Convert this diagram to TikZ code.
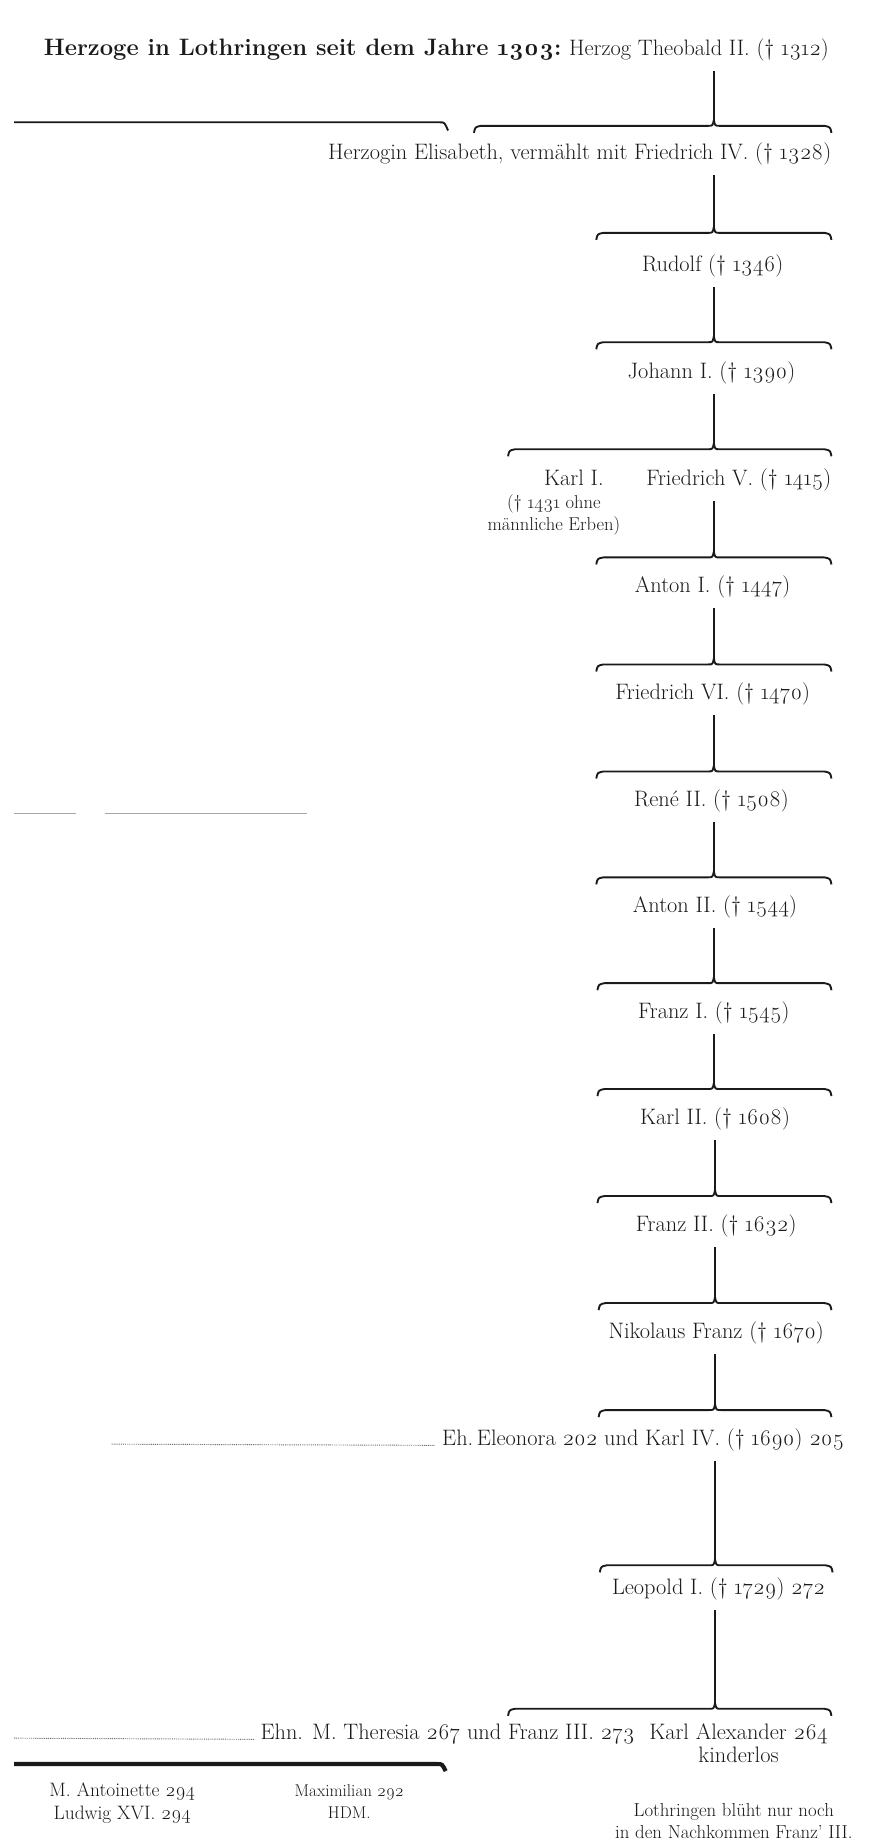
\documentclass[tikz,border=0pt]{standalone}
\usepackage{fontspec}
\setmainfont{Latin Modern Roman}[Numbers=OldStyle]
\usepackage{tikz}
\usetikzlibrary{positioning}
\definecolor{LoInk}{HTML}{1A1A1A}
\definecolor{LoFaint}{HTML}{A8A8A8}
\definecolor{LoDots}{HTML}{6E6E6E}
\newcommand{\namefont}{\fontsize{19}{20}\selectfont}
\newcommand{\titlefont}{\fontsize{20.2}{21}\selectfont\bfseries}
\newcommand{\notefont}{\fontsize{15.8}{19}\selectfont}
\tikzset{
  person/.style={anchor=base,inner sep=0pt,font=\namefont,text=LoInk},
  stem/.style={LoInk,line width=1.3pt,shorten <=8pt},
  bracket/.style={LoInk,line width=1.6pt,line join=round},
  dotrule/.style={LoDots,line width=0.8pt,dash pattern=on 0.8pt off 0.8pt},
}
% family bracket: left x, right x, tip x, y, name of the tip
\newcommand{\kinbrace}[5]{%
  \draw[bracket] ({#1},{#4+6}) .. controls ({#1+1},{#4+1}) .. ({#1+6},{#4})
    -- ({#3-5},{#4}) .. controls ({#3-1},{#4}) .. ({#3},{#4-5})
    .. controls ({#3+1},{#4}) .. ({#3+5},{#4}) -- ({#2-6},{#4})
    .. controls ({#2-1},{#4+1}) .. ({#2},{#4+6});
  \coordinate (#5) at ({#3},{#4-5});}

\begin{document}
\begin{tikzpicture}[x=1pt,y=-1pt]
\path[use as bounding box] (0,0) rectangle (743,1568);
% title row
\node[person,anchor=base east] (theobald) at (705,47) {Herzog Theobald II. († 1312)};
\node[person,anchor=base east,font=\titlefont] (title) at ([xshift=-6pt]theobald.base west) {Herzoge in Lothringen seit dem Jahre 1303:};
\draw[bracket] (12,104) -- (374,104) .. controls (378,104) .. (381,111);
\kinbrace{403}{707}{607}{107}{b1}
\draw[stem] (b1 |- theobald.south) -- (b1);
% the line of dukes
\node[person,anchor=base east] (elisabeth) at (707,136) {Herzogin Elisabeth, vermählt mit Friedrich IV. († 1328)};
\kinbrace{507}{707}{607}{198}{b2}
\draw[stem] (b2 |- elisabeth.south) -- (b2);
\node[person] (rudolf) at (606,231) {Rudolf († 1346)};
\kinbrace{507}{707}{607}{291}{b3}
\draw[stem] (b3 |- rudolf.south) -- (b3);
\node[person] (johann1) at (605,322) {Johann I. († 1390)};
\kinbrace{432}{707}{607}{382}{b4}
\draw[stem] (b4 |- johann1.south) -- (b4);
\node[person] (karl1) at (488,413) {Karl I.};
\node[person,font=\notefont,align=center] (karl1note) at (471,451) {(† 1431 ohne\\männliche Erben)};
\node[person,anchor=base east] (friedrich5) at (707,413) {Friedrich V. († 1415)};
\kinbrace{507}{707}{607}{474}{b5}
\draw[stem] (b5 |- friedrich5.south) -- (b5);
\node[person] (anton1) at (606,504) {Anton I. († 1447)};
\kinbrace{507}{707}{607}{565}{b6}
\draw[stem] (b6 |- anton1.south) -- (b6);
\node[person] (friedrich6) at (606,595) {Friedrich VI. († 1470)};
\kinbrace{507}{707}{607}{656}{b7}
\draw[stem] (b7 |- friedrich6.south) -- (b7);
\node[person] (rene2) at (605,686) {René II. († 1508)};
\kinbrace{507}{707}{607}{746}{b8}
\draw[stem] (b8 |- rene2.south) -- (b8);
\node[person] (anton2) at (608,776) {Anton II. († 1544)};
\kinbrace{508}{707}{607}{836}{b9}
\draw[stem] (b9 |- anton2.south) -- (b9);
\node[person] (franz1) at (607,866) {Franz I. († 1545)};
\kinbrace{508}{707}{607}{926}{b10}
\draw[stem] (b10 |- franz1.south) -- (b10);
\node[person] (karl2) at (608,956) {Karl II. († 1608)};
\kinbrace{508}{707}{608}{1017}{b11}
\draw[stem] (b11 |- karl2.south) -- (b11);
\node[person] (franz2) at (609,1047) {Franz II. († 1632)};
\kinbrace{509}{707}{608}{1108}{b12}
\draw[stem] (b12 |- franz2.south) -- (b12);
\node[person] (nikolaus) at (609,1138) {Nikolaus Franz († 1670)};
\kinbrace{509}{707}{608}{1199}{b13}
\draw[stem] (b13 |- nikolaus.south) -- (b13);
\node[person,anchor=base east] (eleonora) at (718,1229) {Eh.\,Eleonora 202 und Karl IV. († 1690) 205};
\draw[dotrule] (95,1228) -- ([xshift=-6pt]eleonora.base west);
\kinbrace{510}{708}{608}{1331}{b14}
\draw[stem] (b14 |- eleonora.south) -- (b14);
\node[person] (leopold1) at (611,1356) {Leopold I. († 1729) 272};
\kinbrace{432}{707}{608}{1453}{b15}
\draw[stem] (b15 |- leopold1.south) -- (b15);
\node[person,anchor=base east] (theresia) at (540,1479) {Ehn. M. Theresia 267 und Franz III. 273};
\draw[dotrule] (12,1478) -- ([xshift=-5pt]theresia.base west);
\node[person,align=center] (karlalex) at (628,1499) {Karl Alexander 264\\kinderlos};
% the descendants
\draw[LoInk,line width=3.5pt] (12,1500) -- (372,1500) .. controls (376,1500) .. (379,1506);
\node[person,align=center,font=\fontsize{16.5}{19}\selectfont] (antoinette) at (104,1547) {M. Antoinette 294\\Ludwig XVI. 294};
\node[person,align=center,font=\fontsize{14.5}{18}\selectfont] (maximilian) at (297,1546) {Maximilian 292\\HDM.};
\node[person,align=center,font=\fontsize{16}{18}\selectfont] (bluete) at (624,1563) {Lothringen blüht nur noch\\in den Nachkommen Franz’ III.};
% faint rules left in the print
\draw[LoFaint,line width=0.8pt] (12,692) -- (65,692);
\draw[LoFaint,line width=0.8pt] (89,692) -- (261,692);
\end{tikzpicture}
\end{document}
